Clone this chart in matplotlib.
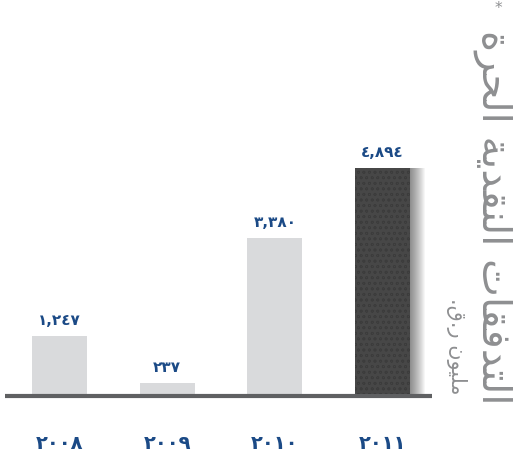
import matplotlib
matplotlib.use("Agg")
import matplotlib.pyplot as plt

# data
years = [2008, 2009, 2010, 2011]
values = [1247, 237, 3380, 4894]

# arabic text as presentation forms (logical order), reversed for LTR drawing
title_words = [
    "\uFE8D\uFEDF\uFE98\uFEAA\uFED3\uFED8\uFE8E\uFE95",  # التدفقات
    "\uFE8D\uFEDF\uFEE8\uFED8\uFEAA\uFEF3\uFE94",  # النقدية
    "\uFE8D\uFEDF\uFEA4\uFEAE\uFE93",  # الحرة
]
unit_words = [
    "\uFEE3\uFEE0\uFEF4\uFEEE\uFEE5",  # مليون
    "\uFEAD.\uFED5.",  # ر.ق.
]

AR_DIGITS = str.maketrans("0123456789", "\u0660\u0661\u0662\u0663\u0664\u0665\u0666\u0667\u0668\u0669")


def visual(words):
    return " ".join(words)[::-1]


def ar_num(n, sep=True):
    s = f"{n:,}" if sep else str(n)
    return s.translate(AR_DIGITS)


W, H = 513, 457
fig = plt.figure(figsize=(W / 100, H / 100), dpi=100)

scale = 226 / 4894.0  # px per unit
ax = fig.add_axes([5 / W, 57 / H, 427 / W, 400 / H])
ax.set_xlim(-(59.5 - 5) / 107.67, (432 - 59.5) / 107.67)
ax.set_ylim(-6 / scale, 394 / scale)
ax.axis("off")

x = list(range(len(years)))
bw = 55 / 107.67
light = "#d9dadc"
blue = "#1b4a86"
grey_txt = "#8e8f91"

# light bars
ax.bar(x[:3], values[:3], width=bw, color=light, zorder=2)

# soft shadow for the last bar
for k in range(1, 16):
    ax.bar(x[3] + k * 1.0 / 107.67, values[3], width=bw, color="#000000",
           alpha=0.035, linewidth=0, zorder=1)

plt.rcParams["hatch.linewidth"] = 0.5
ax.bar(x[3], values[3], width=bw, color="#474747", edgecolor="#3c3c3c",
       hatch="ooo", linewidth=0, zorder=3)

# baseline
ax.axhline(-2 / scale, color="#5f6062", linewidth=3, zorder=4, solid_capstyle="butt")

for xi, v in zip(x, values):
    ax.annotate(ar_num(v), (xi, v), xytext=(0, 11.2), textcoords="offset points",
                ha="center", va="center", fontsize=11, fontweight="bold",
                color=blue, family="DejaVu Sans")

for xi, yr in zip(x, years):
    ax.annotate(ar_num(yr, sep=False), (xi, -6 / scale), xytext=(0, -31), textcoords="offset points",
                ha="center", va="center", fontsize=14, fontweight="bold",
                color=blue, family="DejaVu Sans", annotation_clip=False)

# vertical title and unit
fig.text(493 / W, 1 - 405 / H, visual(title_words), rotation=-90, ha="center", va="bottom",
         fontsize=29, color=grey_txt, family="DejaVu Sans")
fig.text(498 / W, 1 - 9 / H, "*", ha="center", va="center", fontsize=11, color=grey_txt)
fig.text(457 / W, 1 - 395 / H, visual(unit_words), rotation=-90, ha="center", va="bottom",
         fontsize=15, color=grey_txt, family="DejaVu Sans")

fig.savefig("out.png", dpi=100)
